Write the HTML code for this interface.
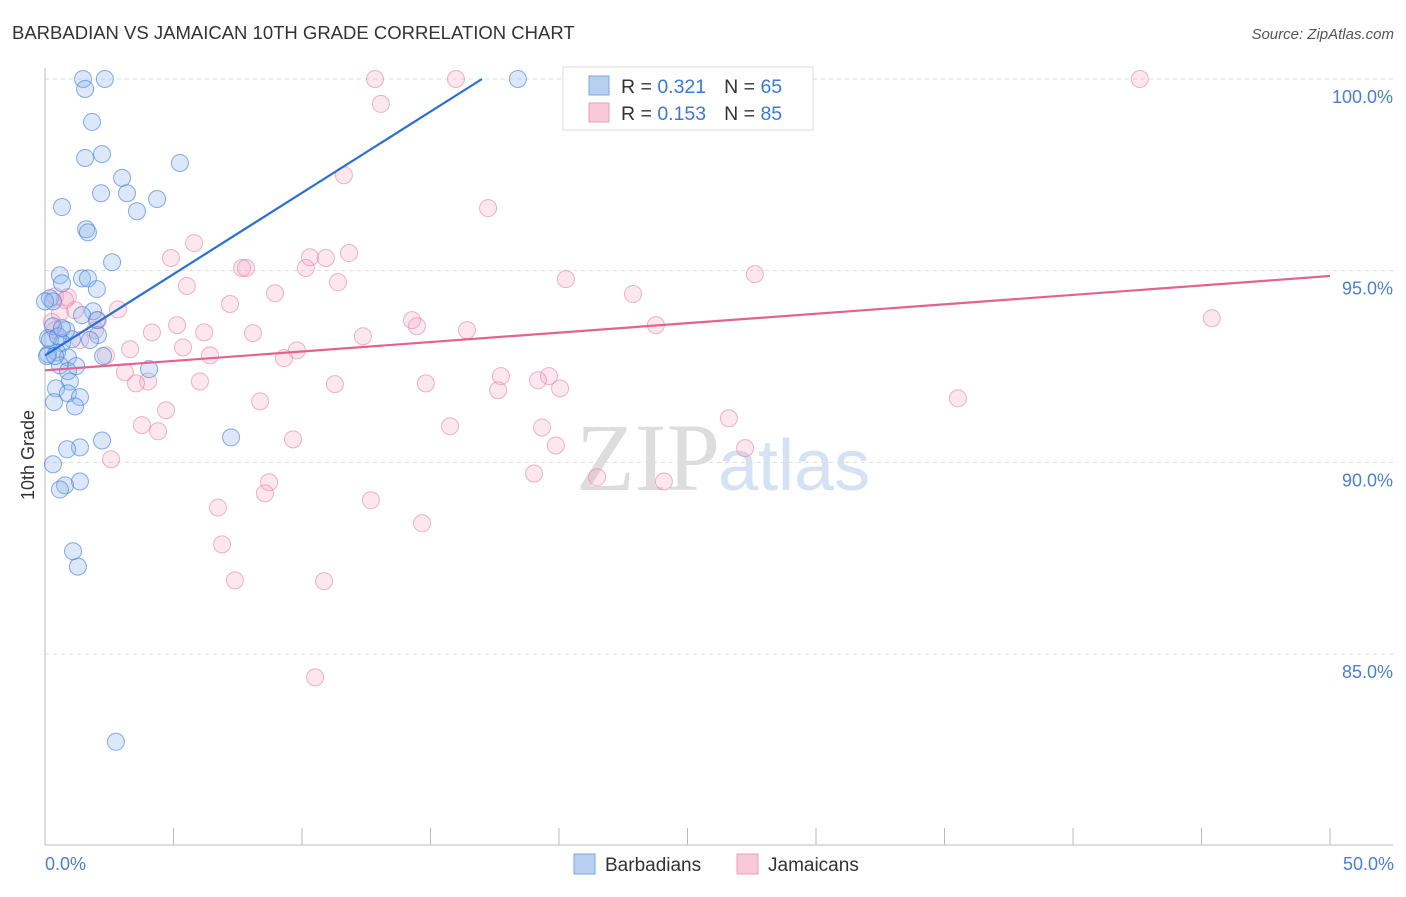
<!DOCTYPE html>
<html><head><meta charset="utf-8"><style>
body{margin:0;background:#fff;font-family:"Liberation Sans",sans-serif;}
</style></head><body>
<svg id="c" width="1406" height="892" xmlns="http://www.w3.org/2000/svg" style="font-family:'Liberation Sans',sans-serif">
<text x="12" y="39" font-size="18.5" fill="#333">BARBADIAN VS JAMAICAN 10TH GRADE CORRELATION CHART</text>
<text x="1394" y="39" font-size="15" fill="#555" font-style="italic" text-anchor="end">Source: ZipAtlas.com</text>
<text x="720" y="490" font-size="96" fill="#ddd" text-anchor="end" font-family="Liberation Serif">ZIP</text>
<text x="718" y="490" font-size="72" fill="#d6e2f3">atlas</text>
<g id="grid"></g>
<g id="axes"></g>
<g id="pts"></g>
<g id="trend"></g>
<text transform="translate(34,455) rotate(-90)" font-size="18" fill="#333" text-anchor="middle">10th Grade</text>
<text x="45" y="870" font-size="18" fill="#4a7fd4">0.0%</text>
<text x="1394" y="870" font-size="18" fill="#4a7fd4" text-anchor="end">50.0%</text>
<g>
<rect x="563" y="67" width="250" height="63" fill="#fff" stroke="#ddd"/>
<rect x="589" y="76" width="20" height="19" fill="#b7d0f2" stroke="#7fa7e0"/>
<rect x="589" y="103" width="20" height="19" fill="#f8c9d8" stroke="#eaa1ba"/>
<text x="621" y="93" font-size="19.5" fill="#333">R = <tspan fill="#3b78d8">0.321</tspan><tspan dx="18">N = </tspan><tspan fill="#3b78d8">65</tspan></text>
<text x="621" y="120" font-size="19.5" fill="#333">R = <tspan fill="#3b78d8">0.153</tspan><tspan dx="18">N = </tspan><tspan fill="#3b78d8">85</tspan></text>
</g>
<g>
<rect x="574" y="854" width="21" height="20" fill="#b7d0f2" stroke="#7fa7e0"/>
<text x="605" y="871" font-size="19" fill="#333">Barbadians</text>
<rect x="737" y="854" width="21" height="20" fill="#f8c9d8" stroke="#eaa1ba"/>
<text x="768" y="871" font-size="19" fill="#333">Jamaicans</text>
</g>
</svg>
<script>
const yTicks=[100,95,90,85];
const yTickLabels=["100.0%","95.0%","90.0%","85.0%"];
const xTicks=[0,5,10,15,20,25,30,35,40,45,50];
const barbX=[1.48,2.33,18.4,1.56,1.83,1.56,2.22,5.25,0.66,2.18,3.0,3.19,3.58,4.36,1.6,1.67,2.61,0.58,1.44,1.67,0.66,2.02,0.19,0.31,1.87,1.44,2.02,0.82,0.31,2.06,0.12,1.05,0.66,0.47,0.12,0.89,2.26,0.58,1.21,4.05,0.89,0.97,0.43,0.89,1.36,0.35,1.17,2.22,1.36,0.86,7.24,0.31,1.36,0.78,0.58,1.09,1.28,2.76,0.19,0,0.51,1.75,0.66,0.08,0.39];
const barbY=[100,100,100,99.74,98.88,97.94,98.04,97.81,96.66,97.02,97.42,97.02,96.55,96.87,96.08,96.0,95.22,94.88,94.8,94.8,94.67,94.52,94.28,94.2,93.94,93.84,93.71,93.45,93.55,93.32,93.24,93.21,93.11,92.87,92.82,92.74,92.77,92.53,92.51,92.43,92.38,92.11,91.93,91.8,91.7,91.57,91.46,90.57,90.39,90.34,90.65,89.95,89.5,89.4,89.29,87.68,87.28,82.71,93.19,94.2,93.29,93.19,93.5,92.77,92.77];
const jamX=[12.84,15.99,26.53,28.52,42.6,13.07,11.63,17.24,5.8,4.9,11.83,10.93,10.31,10.15,7.67,7.82,20.27,27.62,11.4,5.52,8.95,22.88,0.39,0.89,7.2,2.84,14.28,14.47,5.14,6.19,4.16,8.09,16.42,23.77,12.37,45.4,0.39,1.95,5.37,3.31,9.8,6.42,2.37,9.3,3.11,6.03,4.01,3.54,11.28,14.82,17.74,19.61,19.18,20.04,17.63,8.37,4.71,35.52,3.77,4.4,15.76,19.34,9.65,19.88,26.61,27.24,2.57,19.03,21.48,24.08,8.72,8.56,12.68,6.73,14.67,6.89,7.39,10.86,10.51,0.78,1.36,1.17,2.06,0.27,0.58];
const jamY=[100,100,100,100,100,99.35,97.49,96.63,95.72,95.33,95.46,95.33,95.35,95.07,95.07,95.07,94.78,94.91,94.7,94.6,94.41,94.39,94.33,94.31,94.13,93.99,93.71,93.55,93.58,93.39,93.39,93.37,93.45,93.58,93.29,93.76,93.45,93.45,93.0,92.95,92.92,92.79,92.79,92.72,92.35,92.11,92.11,92.06,92.04,92.06,92.25,92.25,92.14,91.93,91.88,91.59,91.36,91.67,90.97,90.81,90.94,90.91,90.6,90.44,91.15,90.37,90.08,89.71,89.61,89.5,89.48,89.19,89.01,88.82,88.41,87.86,86.92,86.9,84.39,94.23,93.19,93.97,93.71,93.66,93.89];
const barbTrend=[92.79,0.424];
const jamTrend=[92.4,0.0492];
const X=v=>45+v*(1330-45)/50;
const Y=v=>79+(100-v)*(654-79)/15;
const NS="http://www.w3.org/2000/svg";
function mk(tag,attrs,parent){const e=document.createElementNS(NS,tag);for(const k in attrs)e.setAttribute(k,attrs[k]);document.getElementById(parent).appendChild(e);return e;}
yTicks.forEach((t,i)=>{
 const l=mk('line',{x1:45,x2:1393,y1:Y(t),y2:Y(t),stroke:'#ddd','stroke-dasharray':'4,4'},'grid');
 
 
 const tx=mk('text',{x:1393,y:Y(t)+24,'font-size':18,fill:'#4a7fd4','text-anchor':'end'},'grid');
 tx.textContent=yTickLabels[i];
 
 
});
const ax=mk('line',{x1:45,x2:45,y1:68,y2:845,stroke:'#bbb'},'axes');


const bx=mk('line',{x1:45,x2:1393,y1:845,y2:845,stroke:'#bbb'},'axes');


xTicks.forEach(t=>{
 const l=mk('line',{x1:X(t),x2:X(t),y1:828,y2:845,stroke:'#bbb'},'axes');
 
 
});
jamX.forEach((v,i)=>{
 const c=mk('circle',{cx:X(v),cy:Y(jamY[i]),r:8.5,fill:'rgba(244,160,190,0.25)',stroke:'rgba(232,130,165,0.6)','stroke-width':1},'pts');
 
 
});
barbX.forEach((v,i)=>{
 const c=mk('circle',{cx:X(v),cy:Y(barbY[i]),r:8.5,fill:'rgba(140,180,235,0.3)',stroke:'rgba(70,130,220,0.65)','stroke-width':1},'pts');
 
 
});
const bxEnd=(100-barbTrend[0])/barbTrend[1];
const bl=mk('line',{x1:X(0),y1:Y(barbTrend[0]),x2:X(bxEnd),y2:Y(100),stroke:'#2a6fd6','stroke-width':2.2},'trend');


const jl=mk('line',{x1:X(0),y1:Y(jamTrend[0]),x2:X(50),y2:Y(jamTrend[0]+50*jamTrend[1]),stroke:'#e4628f','stroke-width':2.2},'trend');


</script>
</body></html>
